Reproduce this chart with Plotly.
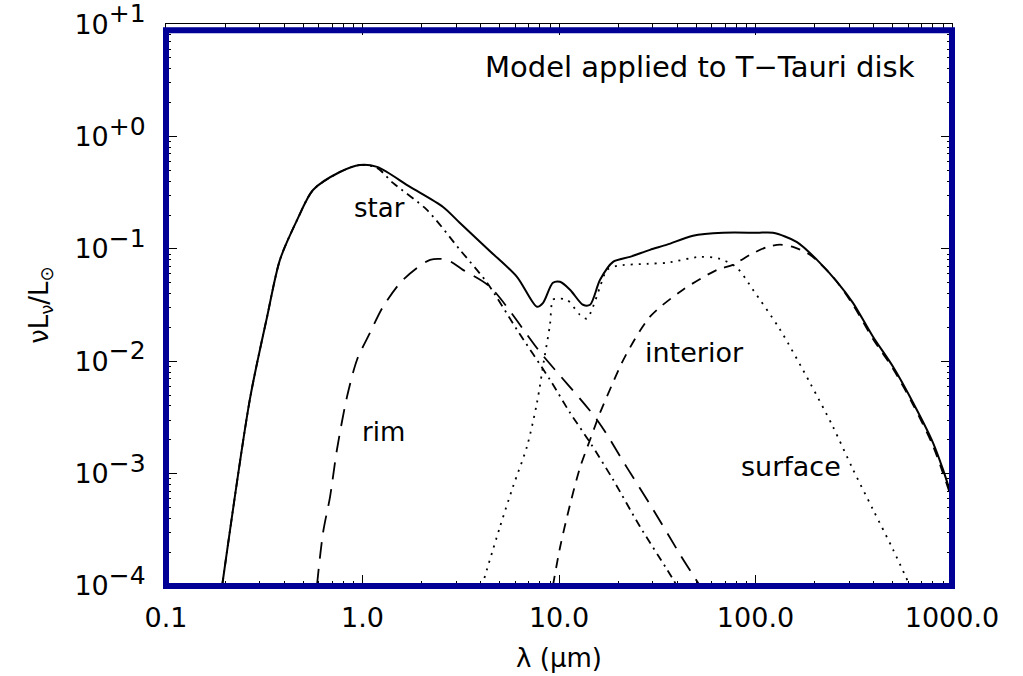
import plotly.graph_objects as go

# ---------------- data (wavelength in micron, nuL_nu / L_sun) ----------------
total_lam = [0.193, 0.267, 0.327, 0.380, 0.465, 0.560, 0.767, 0.970, 1.186, 1.746,
             2.570, 3.133, 4.457, 6.109, 7.727, 8.299, 9.311, 10.12, 11.38,
             13.24, 14.39, 16.18, 18.84, 22.96, 29.04, 35.48, 48.08, 68.39, 101.9,
             122.7, 162.6, 205.6, 260.0, 313.3, 396.3, 501.2, 633.9, 799.8, 899.5, 1000.0]
total_L = [1.0e-4, 4.55e-3, 0.0249, 0.0798, 0.181, 0.334, 0.483, 0.558, 0.536, 0.356,
           0.236, 0.170, 0.0953, 0.0564, 0.0305, 0.0331, 0.0499, 0.0509, 0.0433,
           0.0318, 0.0318, 0.0530, 0.0766, 0.0849, 0.0980, 0.109, 0.131, 0.139, 0.139,
           0.139, 0.115, 0.0798, 0.0509, 0.0331, 0.0165, 8.93e-3, 4.28e-3, 1.89e-3, 1.09e-3, 6.12e-4]

star_lam = [0.193, 0.267, 0.327, 0.380, 0.465, 0.560, 0.767, 0.970, 1.186, 1.429,
            2.128, 3.133, 4.305, 6.109, 8.995, 11.38, 14.39, 18.84, 25.82, 35.48, 39.90]
star_L = [1.0e-4, 4.55e-3, 0.0249, 0.0798, 0.181, 0.334, 0.483, 0.558, 0.525, 0.386,
          0.222, 0.0980, 0.0499, 0.0191, 6.85e-3, 3.48e-3, 1.89e-3, 8.85e-4, 3.38e-4, 1.40e-4, 1.0e-4]

rim_lam = [0.586, 0.630, 0.684, 0.741, 0.834, 0.938, 1.091, 1.271, 1.607, 2.208,
           2.692, 3.243, 4.457, 8.000, 15.60, 22.18, 29.72, 41.30, 52.24]
rim_L = [1.0e-4, 2.99e-4, 6.25e-4, 1.63e-3, 4.83e-3, 0.0103, 0.0179, 0.0305, 0.0530, 0.0798,
         0.0798, 0.0650, 0.0459, 0.0121, 3.02e-3, 1.13e-3, 4.99e-4, 1.91e-4, 1.0e-4]

interior_lam = [9.31, 10.12, 11.38, 12.79, 14.39, 16.18, 18.62, 21.68, 29.04, 42.76,
                63.68, 76.74, 93.76, 114.6, 133.4, 155.2, 189.2, 247.7, 313.3, 396.3,
                501.2, 633.9, 799.8, 1000.0]
interior_L = [1.0e-4, 2.20e-4, 5.30e-4, 1.13e-3, 2.00e-3, 3.48e-3, 6.18e-3, 0.0110, 0.0249, 0.0433,
              0.0650, 0.0721, 0.0885, 0.104, 0.109, 0.104, 0.0885, 0.0564, 0.0318, 0.0158,
              8.57e-3, 4.10e-3, 1.77e-3, 5.87e-4]

surface_lam = [4.055, 5.012, 5.834, 6.871, 7.727, 8.395, 8.995, 9.311, 9.772, 10.99,
               12.79, 13.87, 14.89, 16.18, 17.54, 19.72, 28.05, 35.48, 52.24, 65.92,
               80.54, 97.05, 133.4, 189.2, 247.7, 313.3, 396.3, 501.2, 611.0]
surface_L = [1.0e-4, 3.38e-4, 7.66e-4, 1.74e-3, 4.28e-3, 0.0103, 0.0211, 0.0352, 0.0360, 0.0352,
             0.0259, 0.0239, 0.0305, 0.0459, 0.0650, 0.0706, 0.0736, 0.0752, 0.0849, 0.0815,
             0.0678, 0.0433, 0.0191, 6.44e-3, 2.62e-3, 1.09e-3, 4.79e-4, 2.11e-4, 1.0e-4]

x_tickvals = [0.1, 1, 10, 100, 1000]
x_ticktext = ["0.1", "1.0", "10.0", "100.0", "1000.0"]
y_tickvals = [1e-4, 1e-3, 1e-2, 1e-1, 1e0, 1e1]
y_exponents = ["−4", "−3", "−2", "−1", "+0", "+1"]

curve_labels = ["star", "rim", "interior", "surface"]
title_text = "Model applied to T−Tauri disk"

# ---------------- figure ----------------
FONT = "DejaVu Sans"
y_ticktext = [f"10<sup><span style='font-size:25px'>{e}</span></sup>" for e in y_exponents]
x_minor = [m * 10.0 ** e for e in range(-1, 3) for m in range(2, 10)]
y_minor = [m * 10.0 ** e for e in range(-4, 1) for m in range(2, 10)]

SMOOTH = 0.8
fig = go.Figure()
fig.add_trace(go.Scatter(x=total_lam, y=total_L, mode="lines", name="total",
                         line=dict(color="black", width=2, shape="spline", smoothing=SMOOTH)))
fig.add_trace(go.Scatter(x=star_lam, y=star_L, mode="lines", name="star",
                         line=dict(color="black", width=1.8, dash="8px,5px,2px,5px",
                                   shape="spline", smoothing=SMOOTH)))
fig.add_trace(go.Scatter(x=rim_lam, y=rim_L, mode="lines", name="rim",
                         line=dict(color="black", width=1.8, dash="17px,10px",
                                   shape="spline", smoothing=SMOOTH)))
fig.add_trace(go.Scatter(x=interior_lam, y=interior_L, mode="lines", name="interior",
                         line=dict(color="black", width=1.8, dash="10px,8px",
                                   shape="spline", smoothing=SMOOTH)))
fig.add_trace(go.Scatter(x=surface_lam, y=surface_L, mode="lines", name="surface",
                         line=dict(color="black", width=1.8, dash="2px,6px",
                                   shape="spline", smoothing=SMOOTH)))

axis_common = dict(
    type="log", showgrid=False, zeroline=False, automargin=False,
    showline=True, linecolor="black", linewidth=1, mirror="ticks",
    ticks="inside", ticklen=11, tickwidth=1, tickcolor="black",
    tickmode="array",
    tickfont=dict(family=FONT, size=27, color="black"),
)

fig.update_layout(
    width=1023, height=676,
    margin=dict(l=166, r=71, t=24, b=90, pad=0, autoexpand=False),
    paper_bgcolor="white", plot_bgcolor="white",
    font=dict(family=FONT, size=27, color="black"),
    showlegend=False,
    xaxis=dict(axis_common, range=[-1, 3], tickvals=x_tickvals, ticktext=x_ticktext,
               ticklabelstandoff=8,
               minor=dict(tickmode="array", tickvals=x_minor, ticks="inside",
                          ticklen=5, tickwidth=1, tickcolor="black"),
               title=dict(text="λ (μm)", standoff=16, font=dict(family=FONT, size=26))),
    yaxis=dict(axis_common, range=[-4, 1.0008], tickvals=y_tickvals, ticktext=y_ticktext,
               ticklabelstandoff=14, ticklabeloverflow="allow",
               minor=dict(tickmode="array", tickvals=y_minor, ticks="inside",
                          ticklen=5, tickwidth=1, tickcolor="black"),
               title=dict(text="νL<sub>ν</sub>/L<sub>⊙</sub>", standoff=18,
                          font=dict(family=FONT, size=26))),
)

# blue frame
fig.add_shape(type="rect", xref="paper", yref="paper", x0=0, x1=1, y0=0, y1=0.989,
              line=dict(color="#000096", width=6), fillcolor="rgba(0,0,0,0)", layer="above")

# text labels
label_pos = [(0.2710, 0.6726), (0.2761, 0.2740), (0.6718, 0.4146), (0.7952, 0.2135)]
label_size = [26, 26, 27, 27]
for txt, (px, py), sz in zip(curve_labels, label_pos, label_size):
    fig.add_annotation(text=txt, x=px, y=py, xref="paper", yref="paper",
                       xanchor="center", yanchor="middle", showarrow=False,
                       font=dict(family=FONT, size=sz, color="black"))
fig.add_annotation(text=title_text, x=0.679, y=0.9235, xref="paper", yref="paper",
                   xanchor="center", yanchor="middle", showarrow=False,
                   font=dict(family=FONT, size=29, color="black"))

fig.write_html("out.html", config={"displayModeBar": False})
